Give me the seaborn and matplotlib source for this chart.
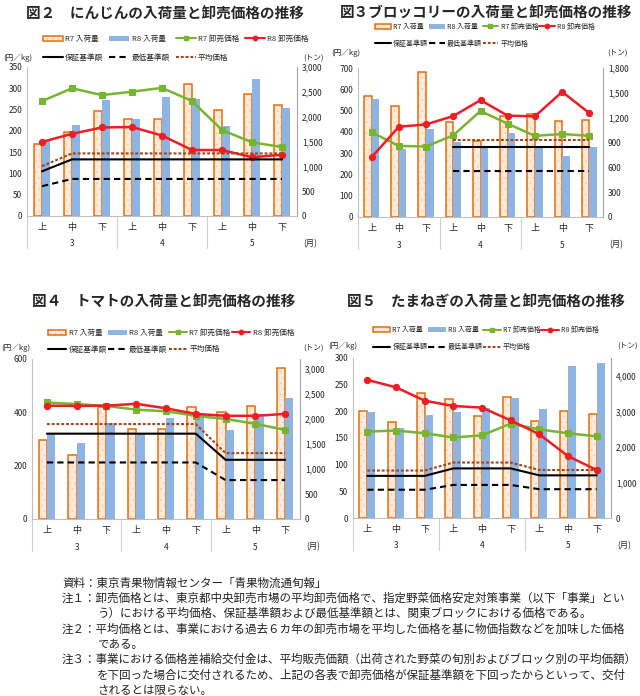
import numpy as np
import pandas as pd
import matplotlib.pyplot as plt
import matplotlib.patches as mpatches
from matplotlib.colors import to_rgba
from matplotlib.lines import Line2D
from matplotlib.ticker import FuncFormatter, MultipleLocator
import seaborn as sns

# Style
sns.set_style('white')
plt.rcParams['font.family'] = ['Noto Sans CJK JP', 'DejaVu Sans']
plt.rcParams['hatch.linewidth'] = 0.3

W, H = 640, 696

periods = ['上', '中', '下'] * 3
months = ['3', '4', '5']
nan = np.nan

# 図2 にんじん
carrot_r7_vol = [1440, 1690, 2120, 1960, 1960, 2650, 2140, 2460, 2230]
carrot_r8_vol = [1510, 1830, 2340, 1960, 2400, 2350, 1820, 2760, 2180]
carrot_r7_price = [270, 300, 284, 292, 301, 270, 202, 173, 162]
carrot_r8_price = [174, 193, 208, 209, 189, 155, 155, 138, 144]
carrot_guarantee = [105, 133, 133, 133, 133, 133, 133, 133, 133]
carrot_minimum = [70, 87, 87, 87, 87, 87, 87, 87, 87]
carrot_average = [117, 147, 147, 147, 147, 147, 147, 147, 147]

# 図3 ブロッコリー
broc_r7_vol = [1464, 1340, 1753, 1143, 922, 1219, 1243, 1163, 1167]
broc_r8_vol = [1428, 822, 1059, 902, 833, 1015, 850, 742, 843]
broc_r7_price = [398, 334, 331, 384, 498, 438, 381, 390, 381]
broc_r8_price = [281, 424, 435, 474, 549, 476, 473, 588, 488]
broc_guarantee = [nan, nan, nan, 328, 328, 328, 328, 328, 328]
broc_minimum = [nan, nan, nan, 217, 217, 217, 217, 217, 217]
broc_average = [nan, nan, nan, 363, 363, 363, 363, 363, 363]

# 図4 トマト
tomato_r7_vol = [1580, 1290, 2250, 1800, 1800, 2240, 2150, 2260, 3020]
tomato_r8_vol = [1700, 1530, 1930, 1700, 2030, 2130, 1790, 2110, 2420]
tomato_r7_price = [437, 431, 424, 410, 404, 387, 375, 357, 334]
tomato_r8_price = [425, 424, 425, 432, 415, 394, 387, 387, 394]
tomato_guarantee = [320, 320, 320, 320, 320, 320, 222, 222, 222]
tomato_minimum = [212, 212, 212, 212, 212, 212, 146, 146, 146]
tomato_average = [356, 356, 356, 356, 356, 356, 247, 247, 247]

# 図5 たまねぎ
onion_r7_vol = [3020, 2710, 3520, 3360, 2870, 3400, 2740, 3010, 2920]
onion_r8_vol = [2970, 2540, 2900, 2980, 3100, 3370, 3060, 4280, 4370]
onion_r7_price = [162, 164, 159, 151, 155, 177, 166, 159, 153]
onion_r8_price = [259, 245, 220, 210, 207, 183, 157, 116, 90]
onion_guarantee = [79, 79, 79, 93, 93, 93, 80, 80, 80]
onion_minimum = [53, 53, 53, 62, 62, 62, 54, 54, 54]
onion_average = [89, 89, 89, 104, 104, 104, 90, 90, 90]

notes = [
    (62, '資料：東京青果物情報センター「青果物流通旬報」'),
    (62, '注１：卸売価格とは、東京都中央卸売市場の平均卸売価格で、指定野菜価格安定対策事業（以下「事業」とい'),
    (97, 'う）における平均価格、保証基準額および最低基準額とは、関東ブロックにおける価格である。'),
    (62, '注２：平均価格とは、事業における過去６カ年の卸売市場を平均した価格を基に物価指数などを加味した価格'),
    (97, 'である。'),
    (62, '注３：事業における価格差補給交付金は、平均販売価額（出荷された野菜の旬別およびブロック別の平均価額）'),
    (97, 'を下回った場合に交付されるため、上記の各表で卸売価格が保証基準額を下回ったからといって、交付'),
    (97, 'されるとは限らない。'),
]

ORANGE = '#E46C0A'
PEACH = '#FDEADB'
DOTS = '#F6C29C'
BLUE = '#8DB4E2'
GREEN = '#77B52F'
RED = '#EE1C25'
BROWN = '#A0461E'
SPINE = '#BFBFBF'


def r7_patch(p):
    p.set_edgecolor(ORANGE)
    p.set_linewidth(1.1)
    p.set_hatch('...')
    p._hatch_color = to_rgba(DOTS)


def draw_panel(fig, box, title, title_xy, r7v, r8v, r7p, r8p, guar, mini, avg,
               pmax, pstep, vmax, vstep, vtop, leg, unit_dy):
    l, t, r, b = box
    hpx = b - t
    ax_p = fig.add_axes([l / W, 1 - b / H, (r - l) / W, hpx / H])
    ax_v = ax_p.twinx()
    ax_p.set_zorder(ax_v.get_zorder() + 1)
    ax_p.patch.set_visible(False)

    x = np.arange(9)
    df = pd.DataFrame({'pos': list(x) * 2, 'vol': r7v + r8v,
                       'year': ['R7'] * 9 + ['R8'] * 9})
    sns.barplot(data=df, x='pos', y='vol', hue='year', hue_order=['R7', 'R8'],
                palette={'R7': PEACH, 'R8': BLUE}, saturation=1, width=0.56,
                errorbar=None, legend=False, ax=ax_v)
    for bar in ax_v.containers[0]:
        r7_patch(bar)
    for bar in ax_v.containers[1]:
        bar.set_edgecolor('none')

    sns.lineplot(x=x, y=r7p, ax=ax_p, color=GREEN, marker='s', markersize=4,
                 markeredgecolor=GREEN, linewidth=1.8)
    sns.lineplot(x=x, y=r8p, ax=ax_p, color=RED, marker='o', markersize=4.5,
                 markeredgecolor=RED, linewidth=1.8)
    sns.lineplot(x=x, y=guar, ax=ax_p, color='black', linewidth=1.5)
    sns.lineplot(x=x, y=mini, ax=ax_p, color='black', linewidth=1.5,
                 linestyle=(0, (3, 2)))
    sns.lineplot(x=x, y=avg, ax=ax_p, color=BROWN, linewidth=1.5,
                 linestyle=(0, (1.4, 0.9)))

    ax_p.set_xlim(-0.5, 8.5)
    ax_p.set_ylim(0, pmax)
    ax_p.yaxis.set_major_locator(MultipleLocator(pstep))
    ax_p.set_xticks(x)
    ax_p.set_xticklabels(periods, fontsize=6.5)
    ax_p.set_xlabel('')
    ax_p.set_ylabel('')
    ax_p.tick_params(axis='y', length=0, pad=3.5, labelsize=6)
    ax_p.tick_params(axis='x', length=0, pad=5)

    ax_v.set_ylim(0, vmax)
    ax_v.set_yticks(np.arange(0, vtop + 1, vstep))
    ax_v.yaxis.set_major_formatter(FuncFormatter(lambda v, p: f'{v:,.0f}'))
    ax_v.tick_params(axis='y', length=0, pad=3.5, labelsize=6)
    ax_v.set_xlabel('')
    ax_v.set_ylabel('')

    for s in ['top', 'right']:
        ax_p.spines[s].set_visible(False)
    for s in ['left', 'bottom']:
        ax_p.spines[s].set_color(SPINE)
    for s in ['top', 'left', 'bottom']:
        ax_v.spines[s].set_visible(False)
    ax_v.spines['right'].set_color('#A6A6A6')

    # month groups
    tr = ax_p.get_xaxis_transform()
    for sx in [-0.5, 2.5, 5.5]:
        ax_p.plot([sx, sx], [0, -32 / hpx], transform=tr, color='#D0D0D0',
                  lw=0.8, clip_on=False)
    for i, m in enumerate(months):
        ax_p.annotate(m, xy=(1 + 3 * i, 0), xycoords=('data', 'axes fraction'),
                      xytext=(0, -28), textcoords='offset pixels',
                      ha='center', va='center', fontsize=6)
    ax_p.annotate('(月)', xy=(1, 0), xycoords='axes fraction', xytext=(6, -28),
                  textcoords='offset pixels', ha='left', va='center', fontsize=6)
    ax_p.annotate('(円／kg)', xy=(0, 1), xycoords='axes fraction',
                  xytext=(unit_dy[0], unit_dy[1]), textcoords='offset pixels',
                  ha='right', va='center', fontsize=5.5)
    ax_p.annotate('(トン)', xy=(1, 1), xycoords='axes fraction',
                  xytext=(unit_dy[2], unit_dy[1]), textcoords='offset pixels',
                  ha='left', va='center', fontsize=5.5)

    fig.text(title_xy[0] / W, 1 - title_xy[1] / H, title, ha='center',
             va='center', fontsize=10.5, fontweight='bold')

    h_r7 = mpatches.Patch(facecolor=PEACH)
    r7_patch(h_r7)
    handles = [
        h_r7,
        Line2D([], [], color='black', lw=1.5),
        mpatches.Patch(facecolor=BLUE, edgecolor='none'),
        Line2D([], [], color='black', lw=1.5, ls=(0, (3, 2))),
        Line2D([], [], color=GREEN, lw=1.5, marker='s', markersize=3),
        Line2D([], [], color=BROWN, lw=1.5, ls=(0, (1.4, 0.9))),
        Line2D([], [], color=RED, lw=1.5, marker='o', markersize=3.2),
    ]
    labels = ['R7 入荷量', '保証基準額', 'R8 入荷量', '最低基準額',
              'R7 卸売価格', '平均価格', 'R8 卸売価格']
    lx, ly, fs, hl, cs, lsp = leg
    fig.legend(handles, labels, ncol=4, loc='upper left',
               bbox_to_anchor=(lx / W, 1 - ly / H), frameon=False, fontsize=fs,
               handlelength=hl, handletextpad=0.3, columnspacing=cs,
               labelspacing=lsp, borderpad=0, borderaxespad=0)
    return ax_p, ax_v


fig = plt.figure(figsize=(W / 100, H / 100), dpi=100)

draw_panel(fig, (27, 67, 297, 216), '図２　にんじんの入荷量と卸売価格の推移', (165, 14),
           carrot_r7_vol, carrot_r8_vol, carrot_r7_price, carrot_r8_price,
           carrot_guarantee, carrot_minimum, carrot_average,
           350, 50, 3000, 500, 3000, (43, 35, 5.5, 2.6, 0.8, 1.4), (5, 9, 6))
draw_panel(fig, (358, 68, 603, 217), '図３ブロッコリーの入荷量と卸売価格の推移', (486, 13),
           broc_r7_vol, broc_r8_vol, broc_r7_price, broc_r8_price,
           broc_guarantee, broc_minimum, broc_average,
           700, 100, 1800, 300, 1800, (375, 22.5, 5, 2.3, 0.1, 1.3), (2, 15, 4))
draw_panel(fig, (32, 359, 300, 519), '図４　トマトの入荷量と卸売価格の推移', (164, 302),
           tomato_r7_vol, tomato_r8_vol, tomato_r7_price, tomato_r8_price,
           tomato_guarantee, tomato_minimum, tomato_average,
           600, 200, 3200, 500, 3000, (48, 329, 5.5, 2.4, 0.2, 1.1), (-2, 11, 3))
draw_panel(fig, (353, 358, 611, 518), '図５　たまねぎの入荷量と卸売価格の推移', (486, 302),
           onion_r7_vol, onion_r8_vol, onion_r7_price, onion_r8_price,
           onion_guarantee, onion_minimum, onion_average,
           300, 50, 4500, 1000, 4000, (373, 326, 5, 2.5, 0.1, 1.3), (4, 12, 6))

for i, (nx, line) in enumerate(notes):
    fig.text(nx / W, 1 - (583 + 15.3 * i) / H, line, ha='left', va='center',
             fontsize=8.3, color='#222222')

fig.savefig('out.png', dpi=100)
